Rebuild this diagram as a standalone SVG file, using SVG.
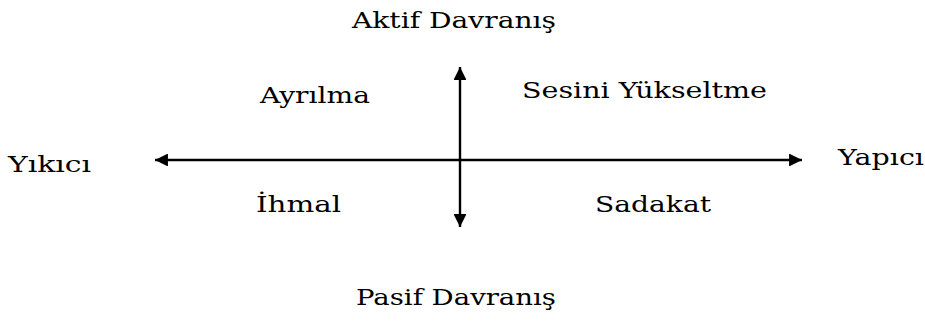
<svg xmlns="http://www.w3.org/2000/svg" width="925" height="325" viewBox="0 0 925 325">
<style>
text{font-family:"DejaVu Serif","Liberation Serif",serif;font-size:22px;fill:#000}
.ax{stroke:#000;stroke-width:2.4;fill:none}
</style>
<defs>
<marker id="ah" viewBox="0 0 10 10" refX="10" refY="5" markerWidth="6.4" markerHeight="5.4" markerUnits="strokeWidth" orient="auto-start-reverse"><path d="M0,0 L10,5 L0,10 z" fill="#000"/></marker>
</defs>
<rect width="925" height="325" fill="#fff"/>
<g id="connectors">
<line class="ax" x1="155" y1="160" x2="802" y2="160" marker-start="url(#ah)" marker-end="url(#ah)"/>
<line class="ax" x1="460" y1="67" x2="460" y2="227" marker-start="url(#ah)" marker-end="url(#ah)"/>
</g>
<g id="aktif"><text x="352" y="28" textLength="204" lengthAdjust="spacingAndGlyphs">Aktif Davranış</text></g>
<g id="pasif"><text x="356" y="305" textLength="200" lengthAdjust="spacingAndGlyphs">Pasif Davranış</text></g>
<g id="ayrilma"><text x="260" y="103" textLength="110" lengthAdjust="spacingAndGlyphs">Ayrılma</text></g>
<g id="sesini"><text x="522" y="98" textLength="245" lengthAdjust="spacingAndGlyphs">Sesini Yükseltme</text></g>
<g id="yikici"><text x="8" y="172" textLength="83" lengthAdjust="spacingAndGlyphs">Yıkıcı</text></g>
<g id="yapici"><text x="838" y="165" textLength="86" lengthAdjust="spacingAndGlyphs">Yapıcı</text></g>
<g id="ihmal"><text x="256" y="212" textLength="85" lengthAdjust="spacingAndGlyphs">İhmal</text></g>
<g id="sadakat"><text x="595" y="212" textLength="116" lengthAdjust="spacingAndGlyphs">Sadakat</text></g>
</svg>
